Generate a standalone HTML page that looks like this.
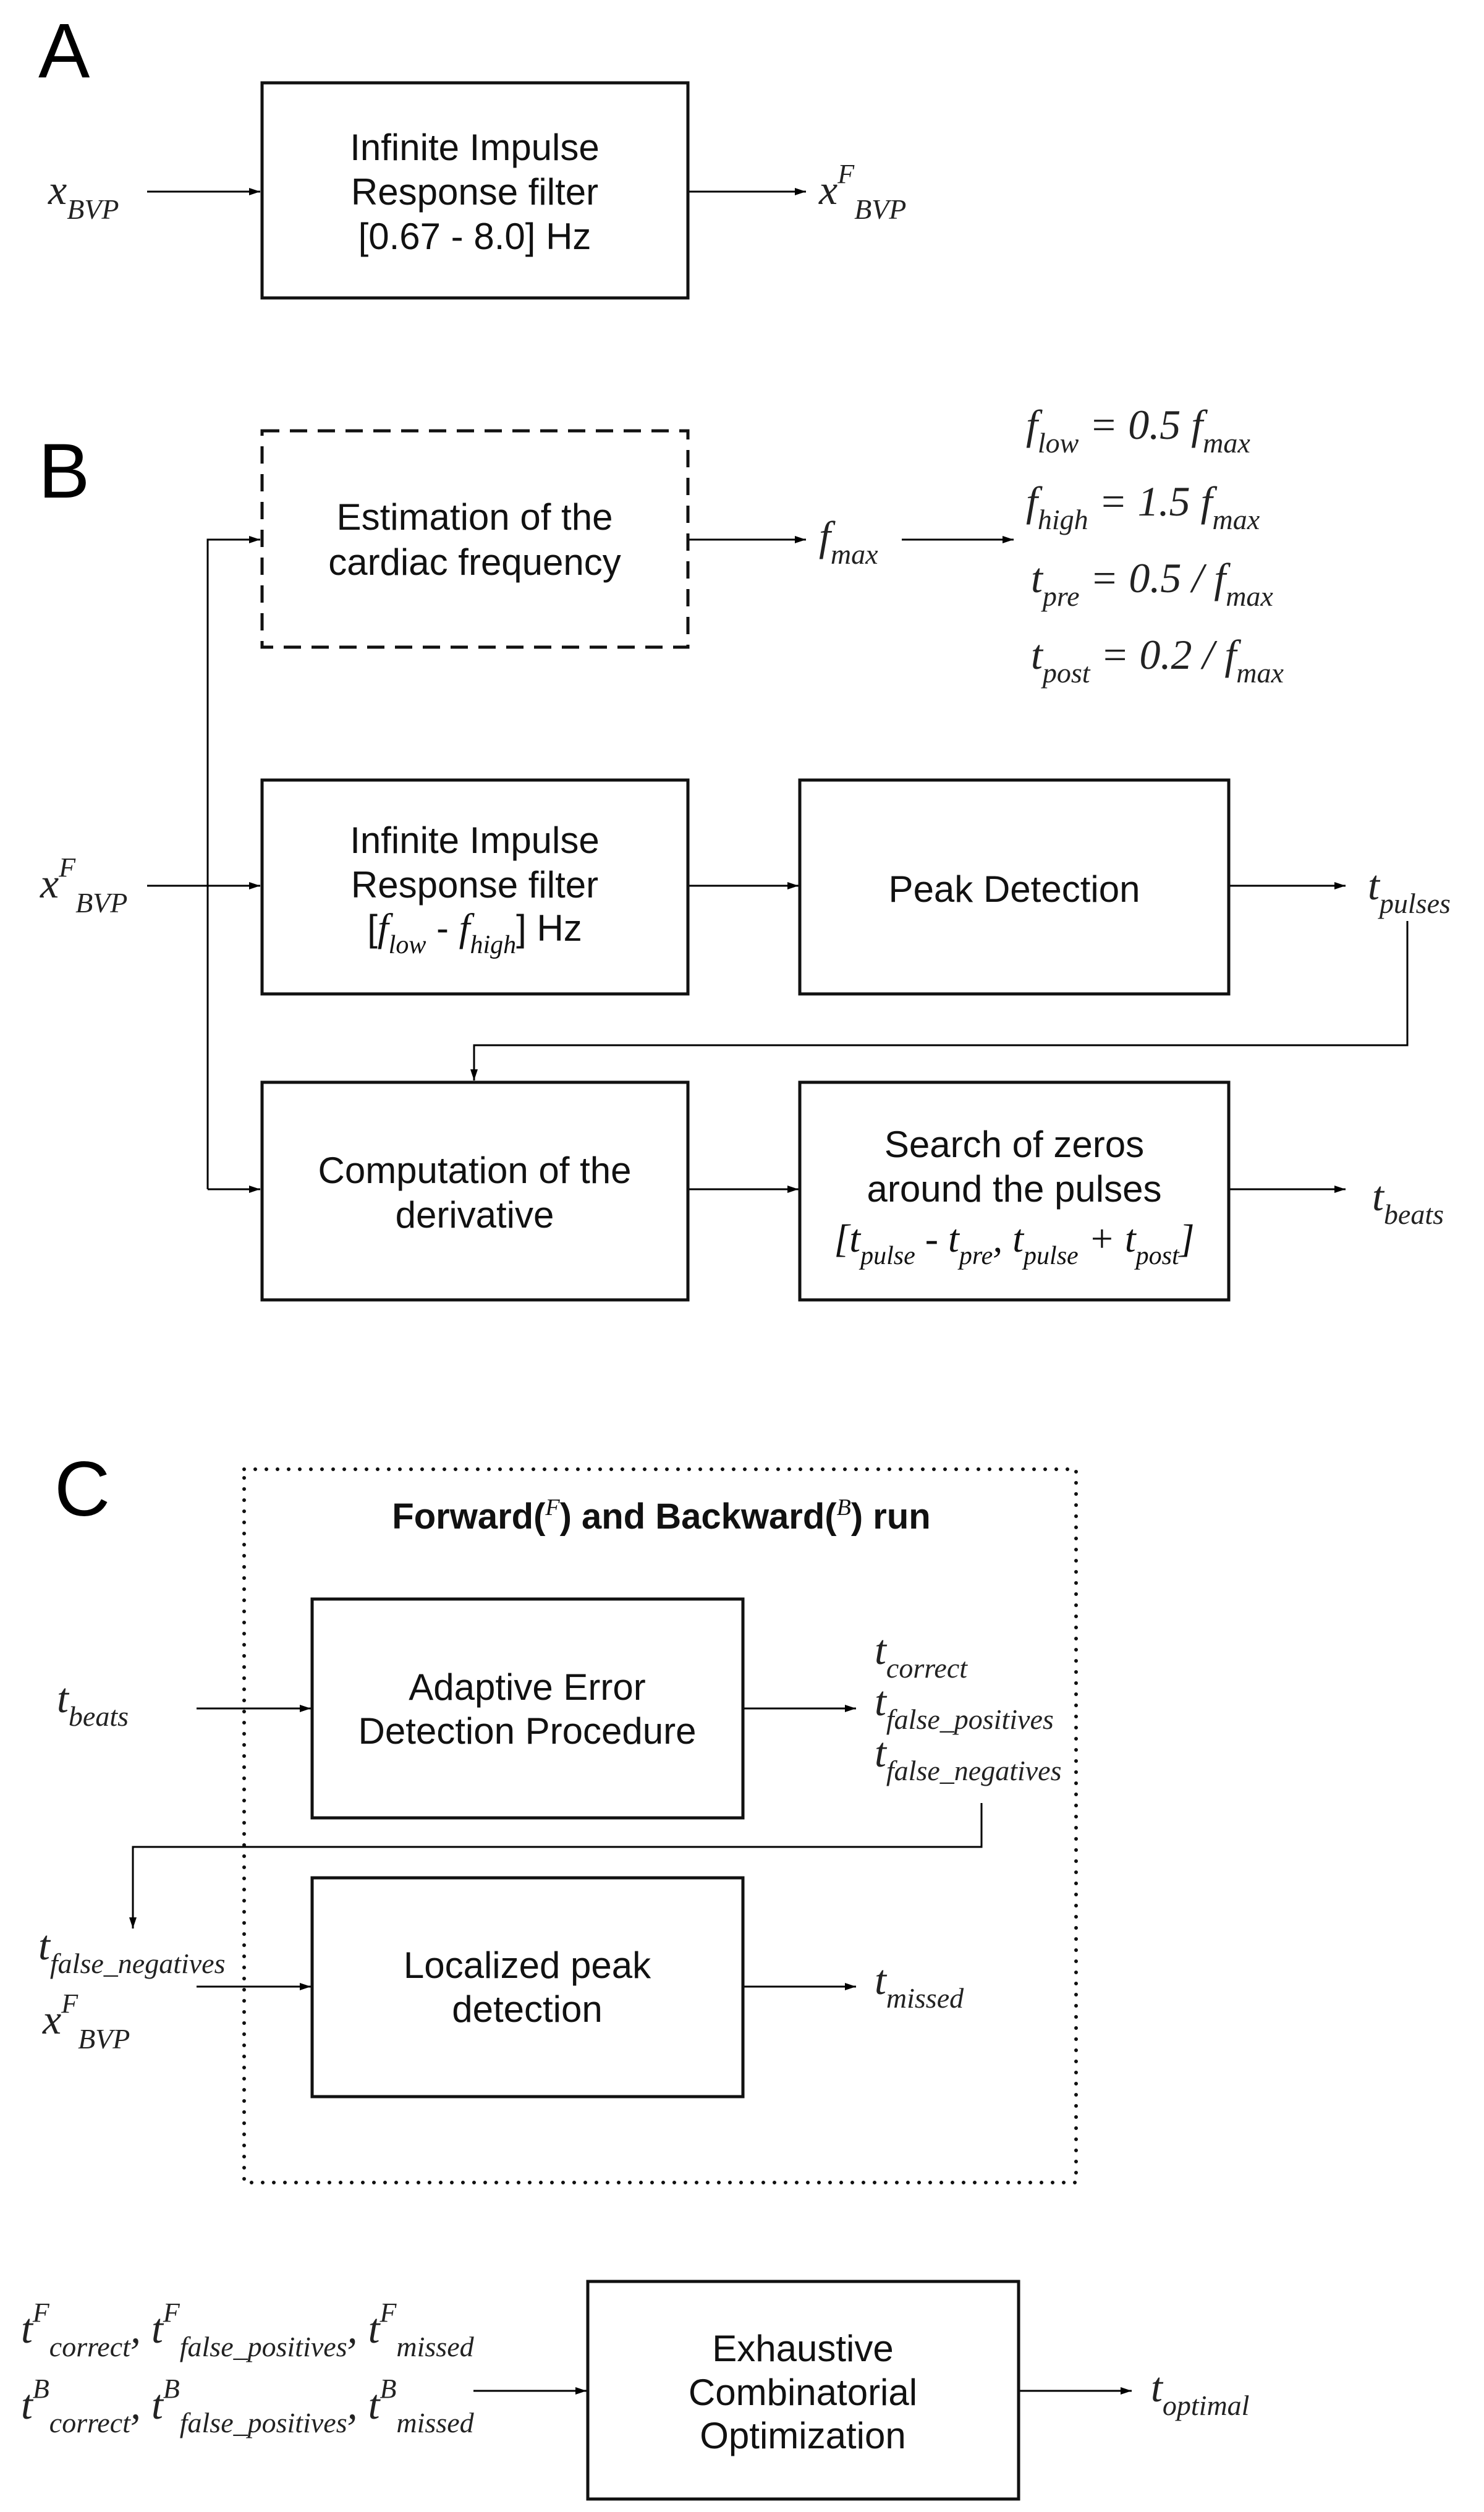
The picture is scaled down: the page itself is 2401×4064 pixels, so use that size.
<!DOCTYPE html>
<html><head><meta charset="utf-8"><style>
html,body{margin:0;padding:0;background:#fff;}
svg{display:block;}
.s{font-family:"Liberation Sans",Arial,sans-serif;font-size:60px;fill:#111;}
.m{font-family:"Liberation Serif","Times New Roman",serif;font-style:italic;font-size:68px;fill:#222;}
.lbl{font-family:"Liberation Sans",Arial,sans-serif;font-size:125px;fill:#000;}
</style></head><body>
<svg width="2401" height="4064" viewBox="0 0 2401 4064" xmlns="http://www.w3.org/2000/svg">
<defs>
<marker id="a" markerWidth="20" markerHeight="14" refX="18" refY="7" orient="auto" markerUnits="userSpaceOnUse">
<path d="M0,1 L18,7 L0,13 z" fill="#000"/></marker>
</defs>
<g stroke="#000" fill="none" stroke-width="3">
<line x1="238" y1="310" x2="421" y2="310" marker-end="url(#a)"/>
<line x1="1113" y1="310" x2="1304" y2="310" marker-end="url(#a)"/>
<line x1="1113" y1="873" x2="1304" y2="873" marker-end="url(#a)"/>
<line x1="1459" y1="873" x2="1640" y2="873" marker-end="url(#a)"/>
<polyline points="336,1924 336,873 421,873" marker-end="url(#a)"/>
<line x1="336" y1="1924" x2="421" y2="1924" marker-end="url(#a)"/>
<line x1="238" y1="1433" x2="421" y2="1433" marker-end="url(#a)"/>
<line x1="1113" y1="1433" x2="1292" y2="1433" marker-end="url(#a)"/>
<line x1="1988" y1="1433" x2="2177" y2="1433" marker-end="url(#a)"/>
<polyline points="2277,1490 2277,1691 767,1691 767,1748" marker-end="url(#a)"/>
<line x1="1113" y1="1924" x2="1292" y2="1924" marker-end="url(#a)"/>
<line x1="1988" y1="1924" x2="2177" y2="1924" marker-end="url(#a)"/>
<line x1="318" y1="2764" x2="503" y2="2764" marker-end="url(#a)"/>
<line x1="1202" y1="2764" x2="1385" y2="2764" marker-end="url(#a)"/>
<polyline points="1588,2917 1588,2988 215,2988 215,3120" marker-end="url(#a)"/>
<line x1="318" y1="3214" x2="503" y2="3214" marker-end="url(#a)"/>
<line x1="1202" y1="3214" x2="1385" y2="3214" marker-end="url(#a)"/>
<line x1="766" y1="3868" x2="949" y2="3868" marker-end="url(#a)"/>
<line x1="1648" y1="3868" x2="1831" y2="3868" marker-end="url(#a)"/>
</g>
<g stroke="#111" fill="none" stroke-width="5">
<rect x="424" y="134" width="689" height="348"/>
<rect x="424" y="697" width="689" height="350" stroke-dasharray="28 17"/>
<rect x="424" y="1262" width="689" height="346"/>
<rect x="1294" y="1262" width="694" height="346"/>
<rect x="424" y="1751" width="689" height="352"/>
<rect x="1294" y="1751" width="694" height="352"/>
<rect x="395" y="2377" width="1346" height="1154" stroke-dasharray="0 18" stroke-linecap="round" stroke-width="6"/>
<rect x="505" y="2587" width="697" height="354"/>
<rect x="505" y="3038" width="697" height="354"/>
<rect x="951" y="3691" width="697" height="352"/>
</g>
<text class="lbl" x="62" y="125">A</text>
<text class="lbl" x="62" y="805">B</text>
<text class="lbl" x="88" y="2452">C</text>
<g class="s" text-anchor="middle">
<text x="768" y="259">Infinite Impulse</text>
<text x="768" y="331">Response filter</text>
<text x="768" y="403">[0.67 - 8.0] Hz</text>
<text x="768" y="857">Estimation of the</text>
<text x="768" y="930">cardiac frequency</text>
<text x="768" y="1380">Infinite Impulse</text>
<text x="768" y="1452">Response filter</text>
<text x="1641" y="1459">Peak Detection</text>
<text x="768" y="1914">Computation of the</text>
<text x="768" y="1986">derivative</text>
<text x="1641" y="1872">Search of zeros</text>
<text x="1641" y="1944">around the pulses</text>
<text x="1070" y="2473" font-weight="bold" style="font-size:58px">Forward(<tspan style="font-family:'Liberation Serif',serif;font-style:italic;font-weight:normal;font-size:38px" dy="-22">F</tspan><tspan dy="22">) and Backward(</tspan><tspan style="font-family:'Liberation Serif',serif;font-style:italic;font-weight:normal;font-size:38px" dy="-22">B</tspan><tspan dy="22">) run</tspan></text>
<text x="853" y="2750">Adaptive Error</text>
<text x="853" y="2821">Detection Procedure</text>
<text x="853" y="3200">Localized peak</text>
<text x="853" y="3271">detection</text>
<text x="1299" y="3820">Exhaustive</text>
<text x="1299" y="3891">Combinatorial</text>
<text x="1299" y="3961">Optimization</text>
</g>
<text class="s" x="768" y="1522" text-anchor="middle"><tspan>[</tspan><tspan style="font-family:'Liberation Serif',serif;font-style:italic;font-size:64px">f</tspan><tspan style="font-family:'Liberation Serif',serif;font-style:italic;font-size:42px" dy="20">low</tspan><tspan dy="-20"> - </tspan><tspan style="font-family:'Liberation Serif',serif;font-style:italic;font-size:64px">f</tspan><tspan style="font-family:'Liberation Serif',serif;font-style:italic;font-size:42px" dy="20">high</tspan><tspan dy="-20">] Hz</tspan></text>
<text class="s" x="1641" y="2025" text-anchor="middle" style="font-family:'Liberation Serif',serif;font-style:italic;font-size:64px"><tspan>[t</tspan><tspan style="font-size:42px" dy="20">pulse</tspan><tspan dy="-20"> - t</tspan><tspan style="font-size:42px" dy="20">pre</tspan><tspan dy="-20">, t</tspan><tspan style="font-size:42px" dy="20">pulse</tspan><tspan dy="-20"> + t</tspan><tspan style="font-size:42px" dy="20">post</tspan><tspan dy="-20">]</tspan></text>
<g class="m">
<text x="78" y="330">x<tspan font-size="46" dy="24">BVP</tspan></text>
<text x="1325" y="330">x<tspan font-size="44" dy="-34">F</tspan><tspan font-size="46" dy="58">BVP</tspan></text>
<text x="1325" y="890">f<tspan font-size="46" dy="22">max</tspan></text>
<text x="1660" y="710">f<tspan font-size="46" dy="22">low</tspan><tspan dy="-22"> = 0.5 f</tspan><tspan font-size="46" dy="22">max</tspan></text>
<text x="1660" y="834">f<tspan font-size="46" dy="22">high</tspan><tspan dy="-22"> = 1.5 f</tspan><tspan font-size="46" dy="22">max</tspan></text>
<text x="1668" y="958">t<tspan font-size="46" dy="22">pre</tspan><tspan dy="-22"> = 0.5 / f</tspan><tspan font-size="46" dy="22">max</tspan></text>
<text x="1668" y="1082">t<tspan font-size="46" dy="22">post</tspan><tspan dy="-22"> = 0.2 / f</tspan><tspan font-size="46" dy="22">max</tspan></text>
<text x="65" y="1452">x<tspan font-size="44" dy="-34">F</tspan><tspan font-size="46" dy="58">BVP</tspan></text>
<text x="2213" y="1455">t<tspan font-size="46" dy="22">pulses</tspan></text>
<text x="2220" y="1958">t<tspan font-size="46" dy="22">beats</tspan></text>
<text x="92" y="2770">t<tspan font-size="46" dy="22">beats</tspan></text>
<text x="1415" y="2692">t<tspan font-size="46" dy="22">correct</tspan></text>
<text x="1415" y="2775">t<tspan font-size="46" dy="22">false_positives</tspan></text>
<text x="1415" y="2858">t<tspan font-size="46" dy="22">false_negatives</tspan></text>
<text x="62" y="3170">t<tspan font-size="46" dy="22">false_negatives</tspan></text>
<text x="69" y="3290">x<tspan font-size="44" dy="-34">F</tspan><tspan font-size="46" dy="58">BVP</tspan></text>
<text x="1415" y="3226">t<tspan font-size="46" dy="22">missed</tspan></text>
<text x="1862" y="3885">t<tspan font-size="46" dy="22">optimal</tspan></text>
<text x="34" y="3790">t<tspan font-size="44" dy="-34">F</tspan><tspan font-size="46" dy="56">correct</tspan><tspan dy="-22">, t</tspan><tspan font-size="44" dy="-34">F</tspan><tspan font-size="46" dy="56">false_positives</tspan><tspan dy="-22">, t</tspan><tspan font-size="44" dy="-34">F</tspan><tspan font-size="46" dy="56">missed</tspan></text>
<text x="34" y="3913">t<tspan font-size="44" dy="-34">B</tspan><tspan font-size="46" dy="56">correct</tspan><tspan dy="-22">, t</tspan><tspan font-size="44" dy="-34">B</tspan><tspan font-size="46" dy="56">false_positives</tspan><tspan dy="-22">, t</tspan><tspan font-size="44" dy="-34">B</tspan><tspan font-size="46" dy="56">missed</tspan></text>
</g>
</svg>
</body></html>
